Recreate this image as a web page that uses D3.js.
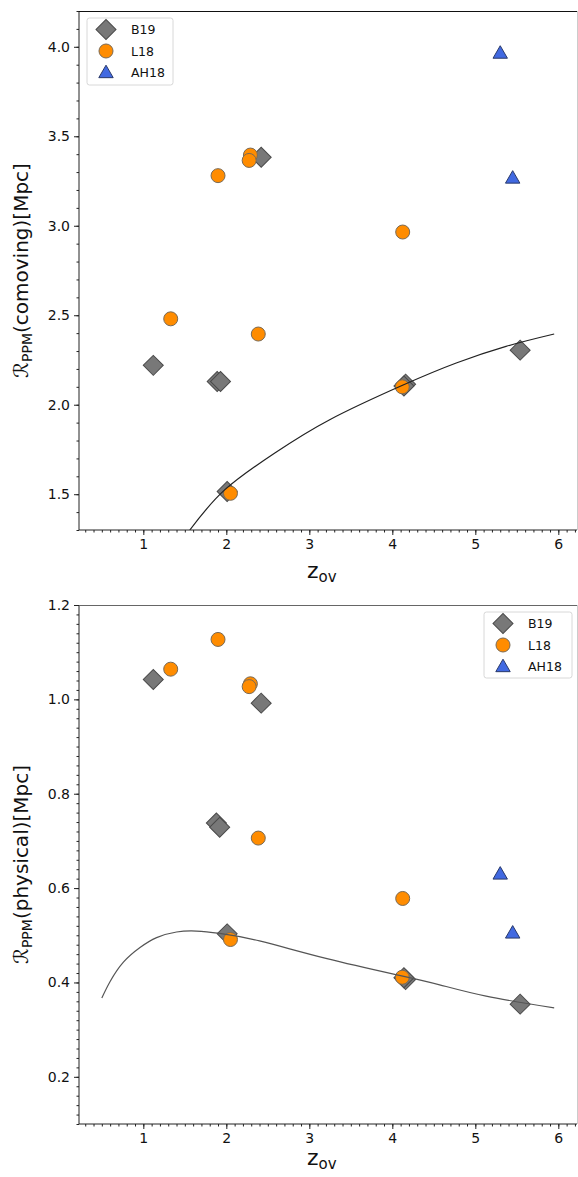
<!DOCTYPE html>
<html><head><meta charset="utf-8">
<script src="https://cdn.jsdelivr.net/npm/d3@7"></script>
<style>
body{margin:0;background:#fff;}
svg{display:block;font-family:"DejaVu Sans",sans-serif;}
</style></head>
<body><svg id="c" width="578" height="1177"></svg>
<script>
// ---- data ----
const seriesNames = ["B19","L18","AH18"];
// comoving panel
const b19Como = [[1.12,2.22],[1.89,2.13],[1.93,2.13],[2.01,1.515],[2.42,3.383],[4.16,2.115],[4.14,2.105],[5.54,2.305]];
const l18Como = [[1.33,2.48],[1.90,3.28],[2.29,3.395],[2.275,3.365],[2.385,2.395],[2.05,1.505],[4.125,2.965],[4.12,2.10]];
const ah18Como = [[5.30,3.965],[5.45,3.267]];
const curveComo = [[1.56,1.30],[1.98,1.524],[2.58,1.729],[3.24,1.915],[4.13,2.11],[4.77,2.233],[5.37,2.326],[5.95,2.395]];
// physical panel
const b19Phys = [[1.12,1.042],[1.88,0.738],[1.92,0.729],[2.01,0.503],[2.42,0.992],[4.16,0.406],[4.14,0.41],[5.54,0.354]];
const l18Phys = [[1.33,1.064],[1.90,1.127],[2.29,1.033],[2.275,1.027],[2.385,0.706],[2.05,0.491],[4.125,0.578],[4.12,0.411]];
const ah18Phys = [[5.30,0.630],[5.45,0.505]];
const curvePhys = [[0.50,0.367],[0.60,0.402],[0.76,0.443],[0.96,0.474],[1.16,0.495],[1.40,0.507],[1.64,0.509],[1.92,0.504],[2.40,0.488],[3.20,0.451],[4.085,0.415],[4.57,0.395],[5.13,0.371],[5.95,0.346]];
const xTicks = [1,2,3,4,5,6];
const yTicksComo = [1.5,2.0,2.5,3.0,3.5,4.0];
const yTicksPhys = [0.2,0.4,0.6,0.8,1.0,1.2];

const svg = d3.select("#c");
const styles = {
  B19: {type:"diamond", fill:"#787878", stroke:"#4a4a4a"},
  L18: {type:"circle", fill:"#ff8c00", stroke:"#7a6a55"},
  AH18:{type:"triangle", fill:"#4169e1", stroke:"#2a3a6a"}
};
function symPath(type){
  if(type==="diamond") return d3.symbol(d3.symbolSquare, 200)();
  if(type==="circle") return d3.symbol(d3.symbolCircle, 154)();
  return d3.symbol(d3.symbolTriangle, 90)();
}
function drawMarker(g, name, x, y){
  const s = styles[name];
  const p = g.append("path").attr("d", symPath(s.type))
    .attr("fill", s.fill).attr("stroke", s.stroke).attr("stroke-width", 1);
  if(s.type==="diamond") p.attr("transform",`translate(${x},${y}) rotate(45)`);
  else if(s.type==="triangle") p.attr("transform",`translate(${x},${y+1})`);
  else p.attr("transform",`translate(${x},${y})`);
}

function panel(opt){
  const {top,bottom,left,right,ydom,yTicks,yMinorStep,yFmt,series,curve,curveColor,ylab,legendPos,topSpineColor,xlabY} = opt;
  const x = d3.scaleLinear().domain([0.225,6.225]).range([left,right]);
  const y = d3.scaleLinear().domain(ydom).range([bottom,top]);
  const g = svg.append("g");
  const xAxis = d3.axisBottom(x).tickValues(xTicks).tickFormat(d3.format("d")).tickSize(5).tickPadding(4);
  const xMinor = d3.range(3,63).map(d=>d/10).filter(v=>v>=0.225&&v<=6.225);
  const gxm = g.append("g").attr("transform",`translate(0,${bottom})`)
    .call(d3.axisBottom(x).tickValues(xMinor).tickSize(2.5).tickFormat(""));
  gxm.select(".domain").remove();
  const gx = g.append("g").attr("transform",`translate(0,${bottom})`).call(xAxis);
  const yMinor = d3.range(Math.ceil(ydom[0]/yMinorStep-1e-6), Math.floor(ydom[1]/yMinorStep+1e-6)+1).map(d=>+(d*yMinorStep).toFixed(3));
  const gym = g.append("g").attr("transform",`translate(${left},0)`)
    .call(d3.axisLeft(y).tickValues(yMinor).tickSize(2.5).tickFormat(""));
  gym.select(".domain").remove();
  const gy = g.append("g").attr("transform",`translate(${left},0)`)
    .call(d3.axisLeft(y).tickValues(yTicks).tickFormat(d3.format(yFmt)).tickSize(5).tickPadding(4));
  [gx,gy,gxm,gym].forEach(a=>{a.selectAll("text").attr("font-size",14).attr("fill","#111").attr("font-family","DejaVu Sans");a.selectAll("line").attr("stroke","#222");});
  gx.select(".domain").attr("stroke","#222").attr("d",`M${left},0H${right}`);
  gy.select(".domain").attr("stroke","#222").attr("d",`M0,${bottom}V${top}`);
  g.append("line").attr("x1",left).attr("x2",right).attr("y1",top+0.5).attr("y2",top+0.5).attr("stroke",topSpineColor).attr("stroke-width",1.2);
  g.append("line").attr("x1",right+0.5).attr("x2",right+0.5).attr("y1",top).attr("y2",bottom).attr("stroke","#ccc").attr("stroke-width",1);
  const cl = "clip"+top;
  svg.append("clipPath").attr("id",cl).append("rect").attr("x",left).attr("y",top).attr("width",right-left).attr("height",bottom-top);
  const pg = g.append("g").attr("clip-path",`url(#${cl})`);
  series.forEach(([name,data])=>{
    data.forEach(d=>drawMarker(pg,name,x(d[0]),y(d[1])));
  });
  pg.append("path").datum(curve).attr("fill","none").attr("stroke",curveColor).attr("stroke-width",1.2)
    .attr("d", d3.line().x(d=>x(d[0])).y(d=>y(d[1])).curve(d3.curveNatural));
  const xl = g.append("text").attr("x",x(3.15)).attr("y",xlabY).attr("text-anchor","middle").attr("font-size",22).attr("fill","#111");
  xl.append("tspan").text("z");
  xl.append("tspan").attr("font-size",15).attr("dy",4).text("ov");
  const yl = g.append("text").attr("transform",`translate(28,${(top+bottom)/2}) rotate(-90)`).attr("text-anchor","middle").attr("font-size",20).attr("fill","#111");
  yl.append("tspan").attr("font-style","italic").text("\u211B");
  yl.append("tspan").attr("font-size",14).attr("dy",4).text("PPM");
  yl.append("tspan").attr("dy",-4).text(ylab);
  const [lx,ly,lw,lh] = legendPos;
  const lg = g.append("g");
  lg.append("rect").attr("x",lx).attr("y",ly).attr("width",lw).attr("height",lh).attr("rx",2.5)
    .attr("fill","#fff").attr("fill-opacity",0.8).attr("stroke","#d8d8d8");
  seriesNames.forEach((n,i)=>{
    const cy = ly+11.5+i*21.5;
    drawMarker(lg,n,lx+19,cy);
    lg.append("text").attr("x",lx+44).attr("y",cy+4.5).attr("font-size",12.5).attr("fill","#111").text(n);
  });
}

panel({top:11,bottom:530,left:79,right:577,ydom:[1.3,4.2],yTicks:yTicksComo,yMinorStep:0.1,yFmt:".1f",
  series:[["B19",b19Como],["L18",l18Como],["AH18",ah18Como]],curve:curveComo,curveColor:"#222",
  ylab:"(comoving)[Mpc]",legendPos:[87,18,86,67],topSpineColor:"#111",xlabY:578});
panel({top:605,bottom:1124,left:79,right:577,ydom:[0.1,1.2],yTicks:yTicksPhys,yMinorStep:0.02,yFmt:".1f",
  series:[["B19",b19Phys],["L18",l18Phys],["AH18",ah18Phys]],curve:curvePhys,curveColor:"#555",
  ylab:"(physical)[Mpc]",legendPos:[484,612,88,66],topSpineColor:"#666",xlabY:1165});
</script></body></html>
